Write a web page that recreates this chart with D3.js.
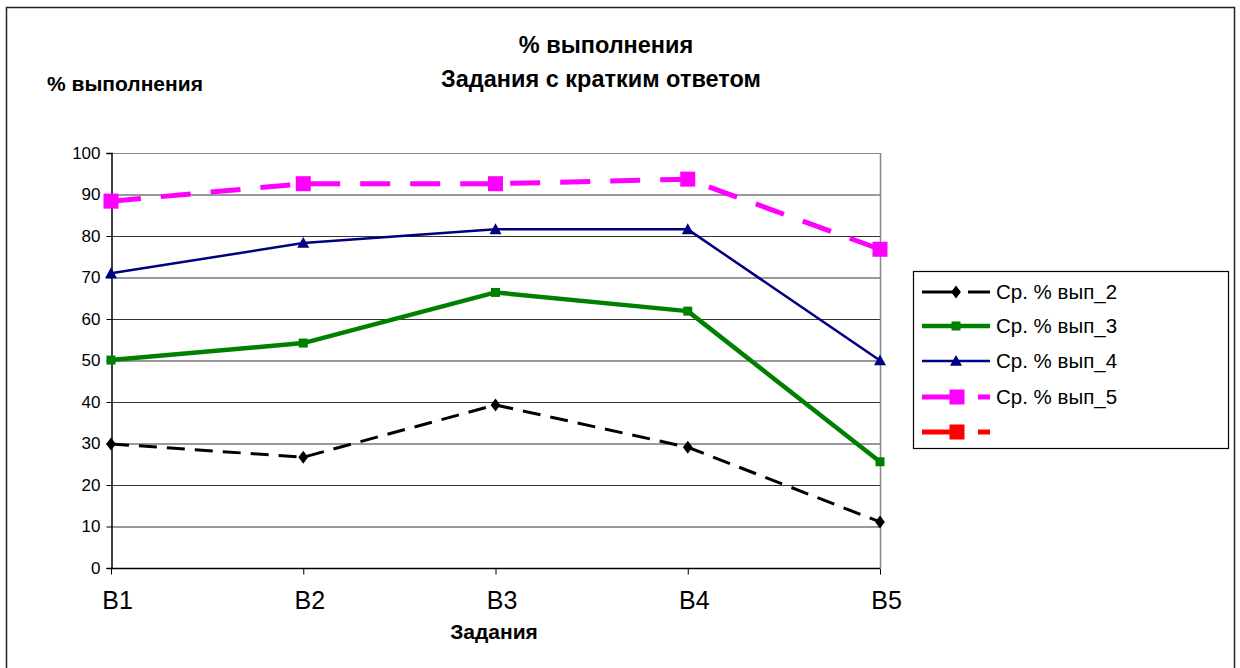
<!DOCTYPE html>
<html>
<head>
<meta charset="utf-8">
<script src="https://d3js.org/d3.v7.min.js"></script>
<style>
  body { margin: 0; background: #fff; }
  svg { font-family: "Liberation Sans", Arial, sans-serif; }
</style>
</head>
<body>
<svg id="chart" width="1240" height="668"></svg>
<script>
  // data
  const tasks = ["B1", "B2", "B3", "B4", "B5"];
  const vyp2 = [29.9, 26.7, 39.3, 29.1, 11.1];
  const vyp3 = [50.1, 54.2, 66.4, 61.9, 25.6];
  const vyp4 = [71.0, 78.3, 81.6, 81.6, 50.0];
  const vyp5 = [88.4, 92.6, 92.6, 93.7, 76.8];
  const yTicks = [0, 10, 20, 30, 40, 50, 60, 70, 80, 90, 100];

  const series = [
    { name: "Ср. % вып_2", values: vyp2, color: "#000000", width: 3, dash: "18,10", marker: "diamond", size: 13 },
    { name: "Ср. % вып_3", values: vyp3, color: "#008000", width: 4.5, dash: null, marker: "square", size: 9 },
    { name: "Ср. % вып_4", values: vyp4, color: "#000080", width: 2.5, dash: null, marker: "triangle", size: 12 },
    { name: "Ср. % вып_5", values: vyp5, color: "#ff00ff", width: 5, dash: "30,20", marker: "square", size: 15 },
    { name: "", values: [], color: "#ff0000", width: 5, dash: "30,20", marker: "square", size: 15 }
  ];

  const svg = d3.select("#chart");

  // outer frame
  svg.append("rect")
    .attr("x", 6.5).attr("y", 7.5)
    .attr("width", 1228).attr("height", 680)
    .attr("fill", "#fff").attr("stroke", "#222").attr("stroke-width", 1.5);

  const pLeft = 111, pRight = 880, pTop = 153, pBottom = 568;

  const x = d3.scalePoint().domain(tasks).range([pLeft, pRight]);
  const y = d3.scaleLinear().domain([0, 100]).range([pBottom, pTop]);

  // gridlines
  svg.append("g")
    .selectAll("line")
    .data(yTicks.filter(d => d > 0))
    .join("line")
    .attr("x1", pLeft).attr("x2", pRight)
    .attr("y1", d => y(d) + 0.5).attr("y2", d => y(d) + 0.5)
    .attr("stroke", d => d === 100 ? "#888" : "#333")
    .attr("stroke-width", 1);

  // right border of plot
  svg.append("line")
    .attr("x1", pRight + 0.5).attr("x2", pRight + 0.5)
    .attr("y1", pTop).attr("y2", pBottom)
    .attr("stroke", "#888").attr("stroke-width", 1.5);

  // y axis
  const yAxis = svg.append("g")
    .attr("transform", `translate(${pLeft + 0.5},0)`)
    .call(d3.axisLeft(y).tickValues(yTicks).tickSize(5).tickPadding(6));
  yAxis.select(".domain").attr("stroke", "#000").attr("stroke-width", 1.5);
  yAxis.selectAll(".tick line").attr("stroke", "#000");
  yAxis.selectAll("text")
    .attr("font-size", 17).attr("fill", "#000")
    .attr("font-family", "Liberation Sans, Arial, sans-serif");

  // x axis
  const xAxis = svg.append("g")
    .attr("transform", `translate(0,${pBottom + 0.5})`)
    .call(d3.axisBottom(x).tickSize(6));
  xAxis.select(".domain").attr("stroke", "#000").attr("stroke-width", 1.5)
    .attr("d", `M${pLeft},0H${pRight}`);
  xAxis.selectAll(".tick line").attr("stroke", "#000");
  xAxis.selectAll("text")
    .attr("font-size", 25).attr("fill", "#000").attr("dx", 6)
    .attr("y", 40).attr("dy", 0)
    .attr("font-family", "Liberation Sans, Arial, sans-serif");

  // marker shapes
  function marker(g, type, size, color) {
    const h = size / 2;
    if (type === "square") {
      g.append("rect").attr("x", -h).attr("y", -h).attr("width", size).attr("height", size).attr("fill", color);
    } else if (type === "diamond") {
      g.append("path").attr("d", `M0,${-h}L${h * 0.75},0L0,${h}L${-h * 0.75},0Z`).attr("fill", color);
    } else if (type === "triangle") {
      g.append("path").attr("d", `M0,${-h}L${h},${h * 0.8}L${-h},${h * 0.8}Z`).attr("fill", color);
    }
  }

  const line = d3.line().x((d, i) => x(tasks[i])).y(d => y(d));

  series.filter(s => s.values.length).forEach(s => {
    svg.append("path")
      .attr("d", line(s.values))
      .attr("fill", "none")
      .attr("stroke", s.color)
      .attr("stroke-width", s.width)
      .attr("stroke-dasharray", s.dash)
      .attr("stroke-linejoin", "round");
    s.values.forEach((v, i) => {
      const g = svg.append("g").attr("transform", `translate(${x(tasks[i])},${y(v)})`);
      marker(g, s.marker, s.size, s.color);
    });
  });

  // titles
  svg.append("text").attr("x", 606).attr("y", 53).attr("text-anchor", "middle")
    .attr("font-size", 23.5).attr("font-weight", "bold").text("% выполнения");
  svg.append("text").attr("x", 601).attr("y", 87).attr("text-anchor", "middle")
    .attr("font-size", 23.5).attr("font-weight", "bold").text("Задания с кратким ответом");
  svg.append("text").attr("x", 47).attr("y", 91)
    .attr("font-size", 21).attr("font-weight", "bold").text("% выполнения");
  svg.append("text").attr("x", 494).attr("y", 639).attr("text-anchor", "middle")
    .attr("font-size", 21).attr("font-weight", "bold").text("Задания");

  // legend
  const legend = svg.append("g");
  legend.append("rect")
    .attr("x", 913.5).attr("y", 271.5).attr("width", 315).attr("height", 177)
    .attr("fill", "#fff").attr("stroke", "#000").attr("stroke-width", 1.2);
  const legY = [292, 326, 361, 397, 432];
  series.forEach((s, i) => {
    const g = legend.append("g").attr("transform", `translate(0,${legY[i]})`);
    if (s.dash) {
      g.append("line").attr("x1", 922).attr("x2", 960).attr("y1", 0).attr("y2", 0)
        .attr("stroke", s.color).attr("stroke-width", s.width);
      g.append("line").attr("x1", s.marker === "square" ? 978 : 968).attr("x2", 990).attr("y1", 0).attr("y2", 0)
        .attr("stroke", s.color).attr("stroke-width", s.width);
    } else {
      g.append("line").attr("x1", 922).attr("x2", 990).attr("y1", 0).attr("y2", 0)
        .attr("stroke", s.color).attr("stroke-width", s.width);
    }
    const m = g.append("g").attr("transform", `translate(${s.marker === "square" && s.size > 12 ? 957 : 956},0)`);
    marker(m, s.marker, s.size, s.color);
    g.append("text").attr("x", 996).attr("y", 7)
      .attr("font-size", 20.5).attr("fill", "#000").text(s.name);
  });
</script>
</body>
</html>
